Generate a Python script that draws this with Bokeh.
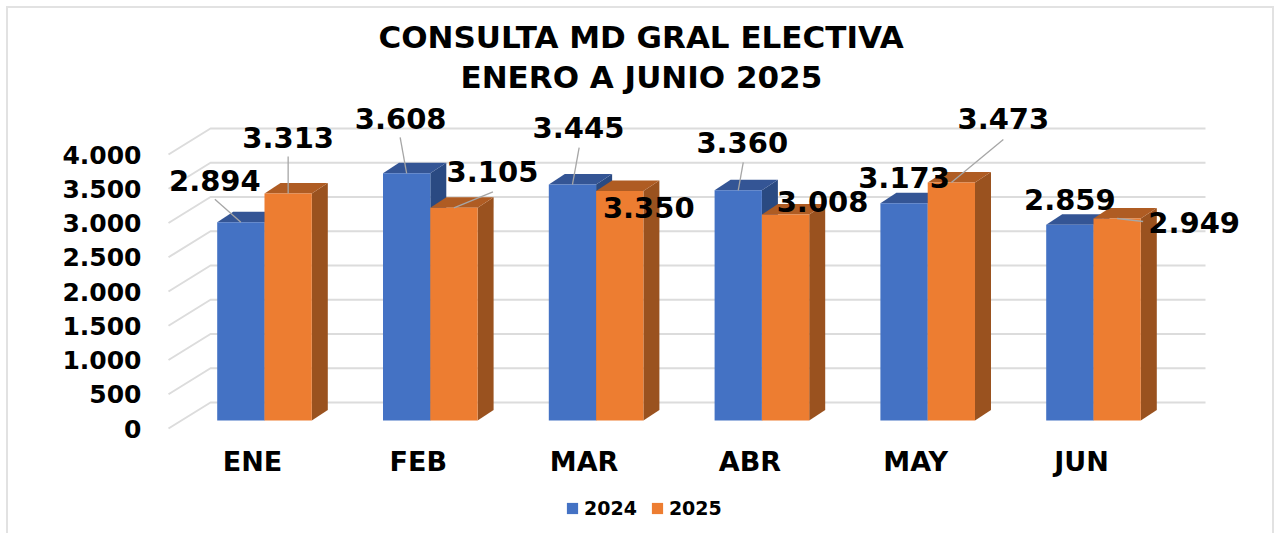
from bokeh.plotting import figure
from bokeh.models import Range1d, LinearAxis, FixedTicker, Legend, LegendItem, Title
from bokeh.core.properties import value
from bokeh.embed import file_html
from bokeh.resources import INLINE

months = ["ENE", "FEB", "MAR", "ABR", "MAY", "JUN"]
v2024 = [2894, 3608, 3445, 3360, 3173, 2859]
v2025 = [3313, 3105, 3350, 3008, 3473, 2949]
label2024 = ["2.894", "3.608", "3.445", "3.360", "3.173", "2.859"]
label2025 = ["3.313", "3.105", "3.350", "3.008", "3.473", "2.949"]
yticks = [0, 500, 1000, 1500, 2000, 2500, 3000, 3500, 4000]
ytick_labels = ["0", "500", "1.000", "1.500", "2.000", "2.500", "3.000", "3.500", "4.000"]
title_lines = ["CONSULTA MD GRAL ELECTIVA", "ENERO A JUNIO 2025"]

# label centre offsets from the bar's front-top centre, in screen px (dx right, dy up)
off2024 = [(-26, 42), (-6, 55), (6, 57), (4, 48), (0, 26), (0, 25)]
off2025 = [(0, 56), (38.5, 36), (29, -16.5), (37, 13), (52, 64), (77, -4)]
# far end of each leader line, same convention; None = no leader
lead2024 = [(-26, 23), (-6.5, 36), (6.7, 37), (5, 28), None, None]
lead2025 = [(0, 37), (39, 16), None, None, (52, 43), (26, -3)]

fnt = "DejaVu Sans"
ORG = 6                                  # the figure's page offset
INNER = 8                                # page offset of the drawing inside the borders
W, H = 1268, 527
L, R, T, B = 147, 1276, 100, 535         # frame edges, page px
PXU = 165.8                              # px per month
PYV = 0.0685                             # px per value unit
X0, Y0 = 264.0, 420.0                    # page px of first group's centre / baseline
DX, DY = 16 / PXU, 10.5 / PYV            # 3-D depth of a bar
BW = 47.3 / PXU

p = figure(width=W, height=H, output_backend="svg", toolbar_location=None,
           x_range=Range1d((L - X0) / PXU, (R - X0) / PXU),
           y_range=Range1d((Y0 - B) / PYV, (Y0 - T) / PYV),
           min_border_left=L - INNER, min_border_right=0, min_border_top=T - INNER,
           min_border_bottom=0,
           background_fill_color="white", border_fill_color="white", outline_line_color=None)
p.xaxis.visible = False
p.yaxis.visible = False
p.xgrid.visible = False
p.ygrid.visible = False
p.styles = {"box-sizing": "border-box", "margin-left": f"{ORG}px", "margin-top": f"{ORG}px",
            "border-top": "2px solid #e2e2e2", "border-left": "2px solid #e2e2e2",
            "border-right": "2px solid #e2e2e2"}

t2 = Title(text=title_lines[1], text_font=fnt, text_font_size="31px", text_font_style="bold",
           text_color="black", align="left", offset=460 - L, standoff=11)
t1 = Title(text=title_lines[0], text_font=fnt, text_font_size="31px", text_font_style="bold",
           text_color="black", align="left", offset=378 - L, standoff=-7)
p.add_layout(t2, "above")
p.add_layout(t1, "above")

p.extra_y_ranges["wall"] = Range1d((428 - B) / PYV, (428 - T) / PYV)
yax = LinearAxis(y_range_name="wall", ticker=FixedTicker(ticks=yticks),
                 major_label_overrides={t: s for t, s in zip(yticks, ytick_labels)},
                 axis_line_color=None, major_tick_line_color=None, minor_tick_line_color=None,
                 major_label_text_font=fnt, major_label_text_font_size="25px",
                 major_label_text_font_style="bold", major_label_text_color="black",
                 major_label_standoff=0)
p.add_layout(yax, "left")

shift = -12 / PXU
p.extra_x_ranges["cats"] = Range1d(p.x_range.start - shift, p.x_range.end - shift)
xax = LinearAxis(x_range_name="cats", ticker=FixedTicker(ticks=list(range(len(months)))),
                 major_label_overrides={i: m for i, m in enumerate(months)},
                 axis_line_color=None, major_tick_line_color=None, minor_tick_line_color=None,
                 major_label_text_font=fnt, major_label_text_font_size="27px",
                 major_label_text_font_style="bold", major_label_text_color="black",
                 major_label_standoff=-96)
p.add_layout(xax, "below")

GX0, GX1, GX2 = (168 - X0) / PXU, (210 - X0) / PXU, (1205 - X0) / PXU
front = 8 / PYV
back = 18 / PYV
for t in yticks:
    p.line([GX0, GX1, GX2], [t - front, t + back, t + back], line_color="#dcdcdc", line_width=2)


def bars(vals, offset, c_front, c_top, c_side):
    x0 = [i + offset - BW / 2 for i in range(len(vals))]
    x1 = [i + offset + BW / 2 for i in range(len(vals))]
    xs_top = [[a, b, b + DX, a + DX] for a, b in zip(x0, x1)]
    ys_top = [[v, v, v + DY, v + DY] for v in vals]
    xs_side = [[b, b + DX, b + DX, b] for b in x1]
    ys_side = [[0, DY, v + DY, v] for v in vals]
    p.patches(xs_side, ys_side, fill_color=c_side, line_color=None)
    p.patches(xs_top, ys_top, fill_color=c_top, line_color=None)
    return p.quad(left=x0, right=x1, bottom=[0] * len(vals), top=vals, fill_color=c_front, line_color=None)


r24 = bars(v2024, -BW / 2, "#4472C4", "#345595", "#2A4A82")
r25 = bars(v2025, BW / 2, "#ED7D31", "#AF5C23", "#9A521F")


def labels(vals, offset, texts, offs, leads):
    xc = [i + offset for i in range(len(vals))]
    lx = [x + d[0] / PXU for x, d in zip(xc, offs)]
    ly = [v + d[1] / PYV for v, d in zip(vals, offs)]
    idx = [i for i, d in enumerate(leads) if d is not None]
    if idx:
        p.segment([xc[i] for i in idx], [vals[i] for i in idx],
                  [xc[i] + leads[i][0] / PXU for i in idx], [vals[i] + leads[i][1] / PYV for i in idx],
                  line_color="#a6a6a6", line_width=1.3)
    p.text(lx, ly, text=texts, text_font=value(fnt), text_font_size="29px", text_font_style="bold",
           text_color="black", text_align="center", text_baseline="middle")


labels(v2024, -BW / 2, label2024, off2024, lead2024)
labels(v2025, BW / 2, label2025, off2025, lead2025)

legend = Legend(items=[LegendItem(label="2024", renderers=[r24]), LegendItem(label="2025", renderers=[r25])],
                orientation="horizontal", location=(565 - L, 16), border_line_color=None,
                background_fill_alpha=0, label_text_font=fnt, label_text_font_size="19px",
                label_text_font_style="bold", label_text_color="black", glyph_width=14, glyph_height=14,
                spacing=13, label_standoff=5, margin=0, padding=0)
p.add_layout(legend)

open("out.html", "w").write(file_html(p, INLINE))
